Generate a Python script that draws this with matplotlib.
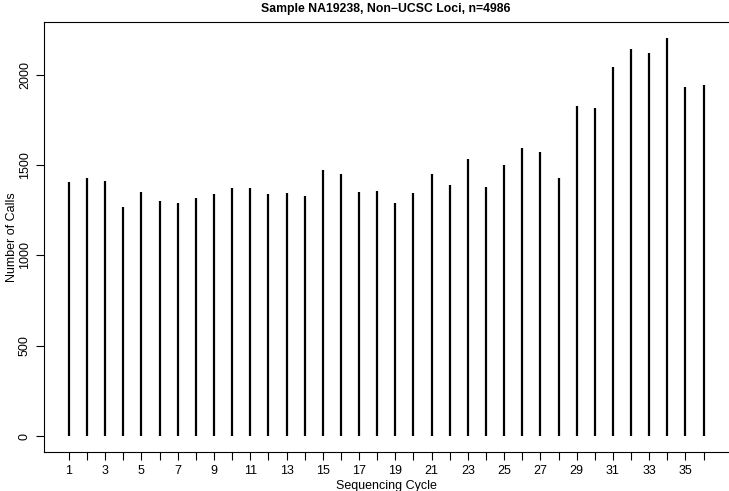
import matplotlib
matplotlib.use("Agg")
import matplotlib.pyplot as plt
import numpy as np

plt.rcParams["font.family"] = ["Liberation Sans", "DejaVu Sans"]

# calls per sequencing cycle
cycles = np.arange(1, 37)
calls = [1406, 1428, 1410, 1270, 1348, 1302, 1287, 1318, 1337, 1375,
         1372, 1337, 1344, 1329, 1471, 1450, 1351, 1357, 1287, 1344,
         1449, 1388, 1533, 1379, 1502, 1596, 1572, 1428, 1824, 1817,
         2044, 2142, 2120, 2203, 1929, 1945]
y_ticks = [0, 500, 1000, 1500, 2000]

W, H = 729, 491
L, B, T = 43.5, 452, 22
fig = plt.figure(figsize=(W / 100, H / 100), dpi=100)
ax = fig.add_axes([L / W, (H - B) / H, 1 - L / W, (B - T) / H])

ax.vlines(cycles, 0, calls, colors="black", linewidth=1.6, capstyle="butt")

ax.set_xlim(-0.4, 37.4)
ax.set_ylim(-88, 2291)

ax.set_xticks(cycles)
ax.set_xticklabels([str(c) if c % 2 == 1 else "" for c in cycles])
ax.set_yticks(y_ticks)
ax.set_yticklabels([str(v) for v in y_ticks], rotation=90, va="center")

ax.tick_params(axis="both", direction="out", length=6, width=0.8, labelsize=9, pad=3)
ax.spines["right"].set_visible(False)
for s in ["left", "bottom", "top"]:
    ax.spines[s].set_linewidth(0.8)

ax.set_xlabel("Sequencing Cycle", fontsize=9, va="center")
ax.xaxis.set_label_coords(0.5, (B - 486) / (B - T))
ax.set_ylabel("Number of Calls", fontsize=9, va="center")
ax.yaxis.set_label_coords((12 - L) / (W - L), 0.5)
fig.text(0.5 * (L + W) / W, (H - 9) / H, "Sample NA19238, Non\u2212UCSC Loci, n=4986",
         ha="center", va="center", fontsize=8.8, fontweight="bold")

fig.savefig("out.png", dpi=100)
